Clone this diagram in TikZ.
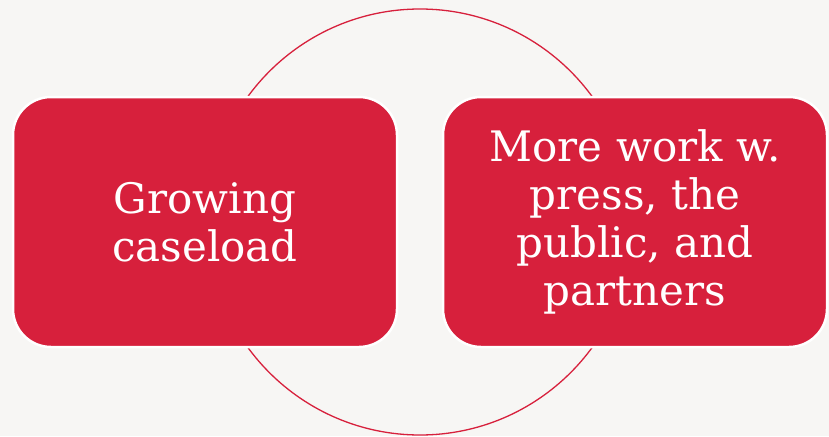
\documentclass[tikz,border=0pt]{standalone}
\usepackage{fontspec}
\setmainfont{DejaVu Serif}
\definecolor{bg}{HTML}{F7F6F4}
\definecolor{boxred}{HTML}{D7203C}
\begin{document}
\begin{tikzpicture}[x=1pt,y=-1pt,
  box/.style={rectangle, rounded corners=38pt, fill=boxred, draw=white, line width=2.5pt,
    minimum width=384pt, minimum height=250pt, inner sep=0pt, align=center, text=white,
    font=\fontsize{42}{48}\selectfont},
  ring/.style={circle, draw=boxred, line width=1.3pt, minimum size=426pt, inner sep=0pt}]
\fill[bg] (0,0) rectangle (829,436);
\useasboundingbox (0,0) rectangle (829,436);
\node[ring] (C) at (420,222) {};
\node[box] (L) at (205,222) {Growing\\caseload};
\node[box] (R) at (635,222) {More work w.\\press, the\\public, and\\partners};
\end{tikzpicture}
\end{document}
